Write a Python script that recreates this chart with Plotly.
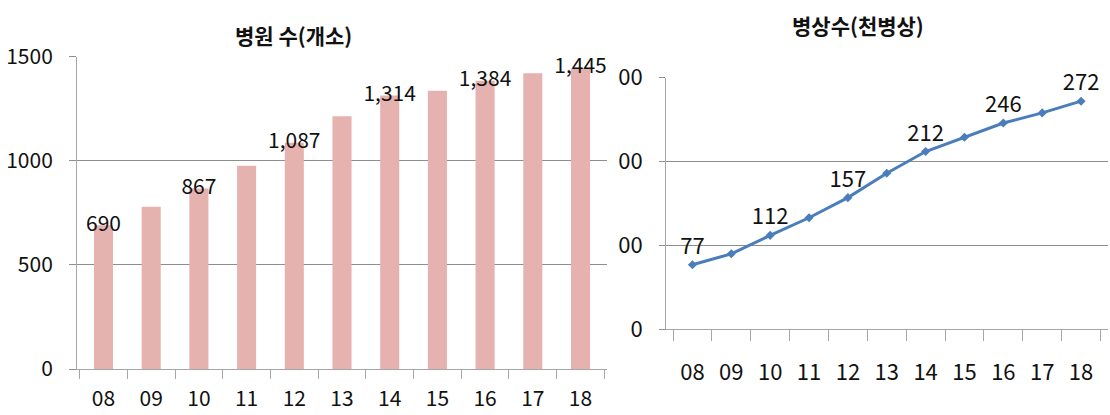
import plotly.graph_objects as go

# Years (2008-2018) shown as two-digit labels
years = ["08", "09", "10", "11", "12", "13", "14", "15", "16", "17", "18"]

# Number of hospitals (개소)
hospitals = [690, 779, 867, 976, 1087, 1214, 1314, 1337, 1384, 1420, 1445]
hospital_labels = ["690", "", "867", "", "1,087", "", "1,314", "", "1,384", "", "1,445"]

# Number of beds (thousand beds)
beds = [77, 90, 112, 133, 157, 186, 212, 229, 246, 258, 272]
bed_labels = ["77", "", "112", "", "157", "", "212", "", "246", "", "272"]

left_ticks = [0, 500, 1000, 1500]
right_ticks = [0, 100, 200, 300]
right_ticktext = ["0", "00", "00", "00"]

W, H = 1110, 415
NUM_FONT = "Noto Sans CJK KR, sans-serif"
KR_FONT = "Noto Sans CJK KR, sans-serif"
GRID = "#8e8e8e"
AXIS = "#a6a6a6"
BAR = "#e5b2b0"
LINE = "#4a7ebb"

fig = go.Figure()

fig.add_trace(go.Bar(
    x=years, y=hospitals, width=0.4, marker=dict(color=BAR, line=dict(width=0)),
    xaxis="x", yaxis="y", showlegend=False, hoverinfo="skip",
))
fig.add_trace(go.Scatter(
    x=years, y=hospitals, mode="text", text=hospital_labels,
    textposition="middle center", cliponaxis=False,
    textfont=dict(family=NUM_FONT, size=21, color="#111111"),
    xaxis="x", yaxis="y", showlegend=False, hoverinfo="skip",
))

fig.add_trace(go.Scatter(
    x=years, y=beds, mode="lines+markers+text", text=bed_labels,
    textposition="top center", cliponaxis=False,
    textfont=dict(family=NUM_FONT, size=22, color="#111111"),
    line=dict(color=LINE, width=3),
    marker=dict(symbol="diamond", size=7, color=LINE),
    xaxis="x2", yaxis="y2", showlegend=False, hoverinfo="skip",
))

def px_x(p):
    return p / W

def px_y(p):
    return (H - p) / H

fig.update_layout(
    width=W, height=H,
    margin=dict(l=0, r=0, t=0, b=0, autoexpand=False),
    paper_bgcolor="white", plot_bgcolor="white",
    xaxis=dict(
        domain=[px_x(77), px_x(607)], anchor="y", type="category",
        automargin=False,
        showline=True, linecolor=AXIS, linewidth=1,
        ticks="outside", tickson="boundaries", ticklen=9, tickcolor=AXIS,
        showgrid=False, ticklabelstandoff=11,
        tickfont=dict(family=NUM_FONT, size=21, color="#111111"),
    ),
    yaxis=dict(
        domain=[px_y(369), px_y(56.7)], anchor="x", range=[0, 1500],
        automargin=False,
        tickvals=left_ticks, showgrid=True, gridcolor=GRID, gridwidth=1,
        showline=True, linecolor=AXIS, linewidth=1,
        ticks="outside", ticklen=7, tickcolor=GRID, zeroline=False,
        ticklabelstandoff=12,
        tickfont=dict(family=NUM_FONT, size=21, color="#111111"),
    ),
    xaxis2=dict(
        domain=[px_x(666), px_x(1107.5)], anchor="y2", type="category",
        automargin=False,
        showline=True, linecolor=AXIS, linewidth=1,
        ticks="outside", tickson="boundaries", ticklen=11, tickcolor=AXIS,
        showgrid=False, ticklabelstandoff=23,
        tickfont=dict(family=NUM_FONT, size=22, color="#111111"),
    ),
    yaxis2=dict(
        domain=[px_y(329.3), px_y(77.7)], anchor="x2", range=[0, 300],
        automargin=False,
        tickvals=right_ticks, ticktext=right_ticktext,
        showgrid=True, gridcolor=GRID, gridwidth=1,
        showline=True, linecolor=AXIS, linewidth=1,
        ticks="outside", ticklen=6, tickcolor=GRID, zeroline=False,
        ticklabelstandoff=12,
        tickfont=dict(family=NUM_FONT, size=22, color="#111111"),
    ),
    annotations=[
        dict(text="<b>병원 수(개소)</b>", x=px_x(293), y=px_y(35),
             xref="paper", yref="paper", xanchor="center", yanchor="middle",
             showarrow=False, font=dict(family=KR_FONT, size=21, color="#111111")),
        dict(text="<b>병상수(천병상)</b>", x=px_x(858), y=px_y(25),
             xref="paper", yref="paper", xanchor="center", yanchor="middle",
             showarrow=False, font=dict(family=KR_FONT, size=21, color="#111111")),
    ],
)

fig.write_html("out.html")
